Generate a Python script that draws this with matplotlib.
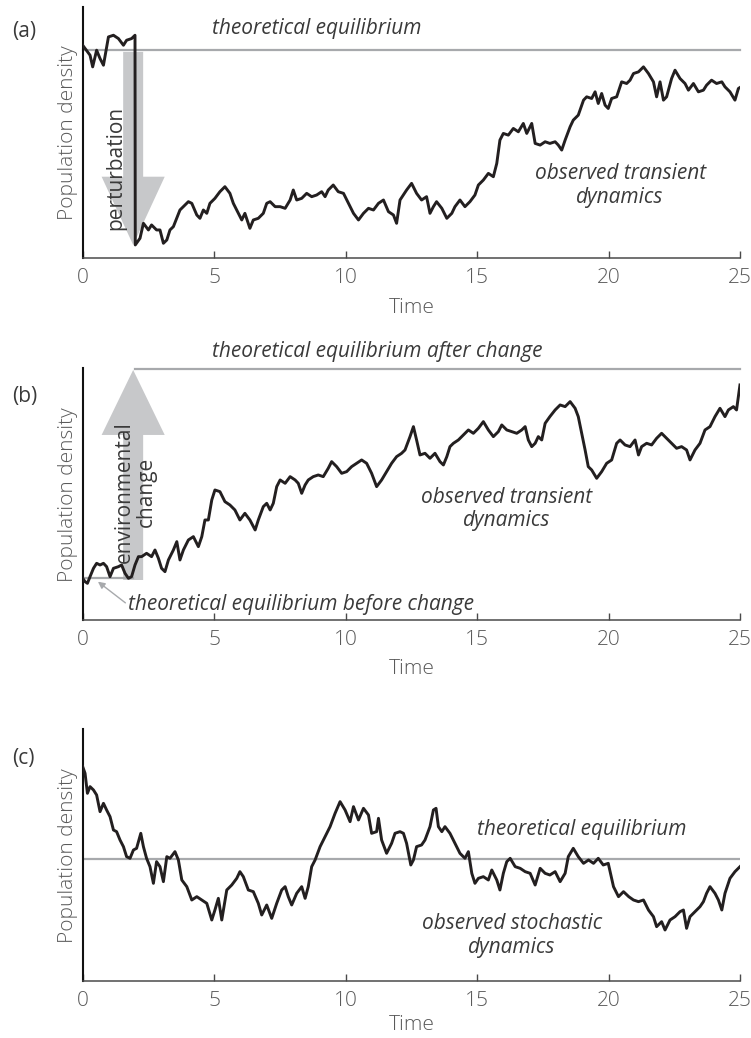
import matplotlib.pyplot as plt

plt.rcParams['font.family'] = ['Liberation Sans Narrow', 'Open Sans', 'DejaVu Sans']

# (a) perturbation away from equilibrium at t = 2
time_a = [0.00, 0.28, 0.38, 0.53, 0.66, 0.79, 0.89, 0.98, 1.17, 1.36, 1.55, 1.67, 1.86, 1.99,
          2.00, 2.18, 2.31, 2.50, 2.62, 2.81, 2.94, 3.07, 3.20, 3.32, 3.45, 3.70, 3.83, 4.02,
          4.15, 4.34, 4.46, 4.59, 4.72, 4.84, 5.03, 5.22, 5.41, 5.60, 5.73, 5.92, 6.05, 6.17,
          6.36, 6.49, 6.68, 6.87, 7.00, 7.13, 7.32, 7.51, 7.70, 7.89, 8.01, 8.14, 8.33, 8.52,
          8.71, 8.90, 9.09, 9.22, 9.34, 9.53, 9.72, 9.92, 10.11, 10.30, 10.49, 10.68, 10.87,
          11.06, 11.25, 11.44, 11.63, 11.82, 11.94, 12.07, 12.32, 12.51, 12.70, 12.89, 13.08,
          13.21, 13.34, 13.46, 13.66, 13.85, 14.04, 14.16, 14.35, 14.54, 14.73, 14.92, 15.05,
          15.24, 15.43, 15.62, 15.75, 15.87, 16.00, 16.19, 16.38, 16.57, 16.76, 16.89, 17.08,
          17.21, 17.40, 17.59, 17.77, 17.97, 18.09, 18.22, 18.35, 18.54, 18.66, 18.85, 19.05,
          19.17, 19.36, 19.49, 19.61, 19.74, 19.87, 19.99, 20.12, 20.31, 20.50, 20.69, 20.82,
          20.95, 21.14, 21.33, 21.52, 21.71, 21.83, 21.96, 22.09, 22.21, 22.40, 22.53, 22.72,
          22.91, 23.04, 23.23, 23.42, 23.61, 23.73, 23.92, 24.11, 24.31, 24.43, 24.62, 24.81,
          24.94, 25.00]
dens_a = [640, 610, 575, 625, 600, 580, 625, 665, 670, 660, 640, 655, 660, 670,
          40, 60, 105, 85, 100, 85, 85, 45, 55, 85, 95, 145, 155, 170,
          165, 130, 120, 145, 135, 165, 180, 200, 215, 195, 165, 135, 115, 135,
          90, 115, 120, 135, 165, 170, 155, 155, 150, 175, 205, 175, 180, 195,
          185, 190, 200, 185, 205, 220, 200, 195, 165, 135, 115, 135, 150,
          145, 165, 175, 140, 130, 105, 175, 205, 225, 195, 175, 185,
          135, 155, 170, 150, 120, 135, 155, 175, 155, 170, 190, 220,
          235, 255, 245, 285, 355, 375, 370, 390, 380, 405, 375, 405,
          345, 340, 350, 345, 350, 340, 325, 355, 395, 415, 430, 475,
          485, 480, 500, 465, 495, 460, 450, 480, 485, 530, 525, 535,
          555, 560, 575, 555, 530, 485, 530, 475, 485, 540, 565, 540,
          525, 505, 525, 500, 505, 520, 535, 525, 530, 515, 500, 475,
          510, 513]
eq_a = 627

# (b) equilibrium shifts upward at t = 2
time_b = [0.00, 0.09, 0.18, 0.28, 0.41, 0.53, 0.66, 0.79, 0.91, 1.04, 1.17, 1.36, 1.48, 1.61,
          1.74, 1.86, 1.99, 2.12, 2.24, 2.43, 2.62, 2.75, 2.88, 3.00, 3.13, 3.26, 3.45, 3.58,
          3.70, 3.83, 4.02, 4.21, 4.40, 4.53, 4.65, 4.78, 4.91, 5.03, 5.22, 5.41, 5.60, 5.79,
          5.98, 6.17, 6.36, 6.56, 6.68, 6.87, 7.00, 7.13, 7.25, 7.38, 7.51, 7.70, 7.89, 8.08,
          8.20, 8.33, 8.46, 8.58, 8.77, 8.96, 9.15, 9.34, 9.47, 9.66, 9.85, 10.04, 10.23,
          10.42, 10.61, 10.80, 10.99, 11.18, 11.37, 11.56, 11.75, 11.94, 12.13, 12.26, 12.45,
          12.58, 12.70, 12.83, 13.02, 13.21, 13.40, 13.59, 13.72, 13.85, 13.97, 14.10, 14.29,
          14.48, 14.67, 14.86, 15.05, 15.24, 15.43, 15.62, 15.81, 15.94, 16.13, 16.32, 16.51,
          16.70, 16.83, 16.95, 17.08, 17.21, 17.33, 17.46, 17.59, 17.77, 17.97, 18.16, 18.35,
          18.54, 18.73, 18.85, 18.98, 19.11, 19.23, 19.36, 19.55, 19.74, 19.93, 20.12, 20.31,
          20.44, 20.63, 20.82, 21.01, 21.14, 21.26, 21.45, 21.64, 21.83, 22.02, 22.21, 22.40,
          22.59, 22.78, 22.97, 23.10, 23.29, 23.48, 23.67, 23.86, 24.05, 24.24, 24.43, 24.56,
          24.75, 24.87, 25.00]
dens_b = [125, 115, 110, 130, 155, 170, 165, 170, 160, 130, 155, 160, 165, 140,
          125, 130, 165, 190, 190, 200, 190, 210, 185, 155, 145, 180, 210, 235,
          180, 210, 240, 250, 220, 250, 300, 300, 360, 390, 385, 355, 345, 330,
          300, 320, 300, 270, 300, 340, 350, 330, 350, 400, 420, 410, 430, 420,
          410, 380, 405, 420, 430, 435, 430, 455, 475, 460, 440, 445, 460,
          470, 480, 470, 440, 400, 420, 445, 470, 490, 500, 510, 550,
          580, 540, 495, 500, 485, 500, 475, 465, 490, 520, 530, 540,
          555, 570, 560, 575, 595, 570, 550, 565, 585, 570, 565, 560,
          570, 580, 540, 520, 530, 550, 540, 590, 610, 630, 645, 640,
          655, 635, 610, 560, 510, 460, 450, 425, 445, 470, 480, 530,
          540, 525, 520, 540, 495, 520, 530, 525, 545, 560, 545, 530,
          515, 520, 510, 480, 510, 530, 570, 580, 610, 635, 610, 630,
          640, 630, 705]
eq_b_before = 127
eq_b_after = 752

# (c) stochastic fluctuation about a fixed equilibrium
time_c = [0.00, 0.09, 0.18, 0.28, 0.41, 0.53, 0.66, 0.79, 0.91, 1.04, 1.17, 1.29, 1.42, 1.55,
          1.67, 1.80, 1.93, 2.05, 2.21, 2.31, 2.43, 2.56, 2.69, 2.81, 2.94, 3.07, 3.20, 3.32,
          3.51, 3.64, 3.77, 3.96, 4.15, 4.34, 4.53, 4.72, 4.91, 5.03, 5.16, 5.29, 5.48, 5.67,
          5.86, 5.98, 6.11, 6.30, 6.49, 6.68, 6.81, 7.00, 7.19, 7.38, 7.57, 7.70, 7.82, 7.95,
          8.14, 8.33, 8.46, 8.58, 8.71, 8.84, 9.03, 9.22, 9.41, 9.60, 9.79, 9.98, 10.17,
          10.30, 10.49, 10.68, 10.87, 10.99, 11.18, 11.25, 11.37, 11.56, 11.75, 11.88, 12.07,
          12.20, 12.32, 12.48, 12.58, 12.70, 12.89, 13.02, 13.21, 13.34, 13.44, 13.53, 13.66,
          13.78, 13.97, 14.16, 14.35, 14.54, 14.67, 14.80, 14.92, 15.05, 15.24, 15.43, 15.56,
          15.75, 15.87, 16.00, 16.13, 16.26, 16.45, 16.64, 16.83, 17.02, 17.21, 17.40, 17.59,
          17.77, 17.97, 18.16, 18.35, 18.47, 18.66, 18.85, 19.05, 19.24, 19.43, 19.61, 19.80,
          19.99, 20.19, 20.38, 20.57, 20.77, 20.95, 21.14, 21.33, 21.52, 21.71, 21.83, 22.02,
          22.15, 22.34, 22.53, 22.72, 22.85, 22.97, 23.10, 23.29, 23.48, 23.61, 23.73, 23.86,
          24.05, 24.18, 24.31, 24.43, 24.62, 24.81, 25.00]
dens_c = [643, 623, 563, 583, 573, 558, 508, 533, 513, 493, 453, 448, 423, 403,
          373, 368, 393, 398, 443, 403, 368, 343, 293, 358, 343, 298, 373, 368,
          388, 363, 303, 283, 243, 253, 243, 233, 183, 213, 248, 183, 273, 288,
          308, 328, 313, 273, 268, 233, 198, 228, 188, 233, 273, 283, 253, 228,
          263, 283, 248, 283, 343, 363, 403, 433, 463, 503, 538, 513, 478,
          523, 483, 518, 498, 443, 448, 488, 423, 383, 413, 443, 448,
          443, 413, 348, 363, 403, 408, 423, 463, 513, 518, 463, 448,
          463, 443, 413, 383, 368, 388, 323, 293, 308, 313, 303, 333,
          303, 273, 323, 358, 368, 343, 338, 328, 323, 288, 338, 323,
          318, 328, 298, 323, 373, 398, 373, 353, 363, 353, 368, 348,
          353, 283, 253, 268, 253, 243, 238, 243, 213, 193, 163, 178,
          153, 183, 193, 208, 213, 158, 193, 208, 223, 238, 263, 283,
          263, 243, 213, 263, 308, 328, 343]
eq_c = 365

x_ticks = [0, 5, 10, 15, 20, 25]
y_top = 755

trace_col = '#231f20'
eq_col = '#a7a9ac'
arrow_col = '#c7c8ca'
text_col = '#3a3a3a'
axis_text_col = '#5a5a5a'
note_size = 15


def fat_arrow(ax, x, y_from, y_to, head_len):
    # wide vertical block arrow pointing from y_from to y_to
    shaft = 0.38
    head = 1.2
    sign = 1 if y_to > y_from else -1
    y_base = y_to - sign * head_len
    xs = [x - shaft, x + shaft, x + shaft, x + head, x, x - head, x - shaft]
    ys = [y_from, y_from, y_base, y_base, y_to, y_base, y_base]
    ax.fill(xs, ys, color=arrow_col, lw=0, zorder=1)


def setup(ax, xpad=7):
    ax.set_xlim(0, 25)
    ax.set_ylim(0, y_top)
    ax.set_xticks(x_ticks)
    ax.set_yticks([])
    ax.spines['top'].set_visible(False)
    ax.spines['right'].set_visible(False)
    ax.spines['left'].set_linewidth(1.5)
    ax.spines['left'].set_color('#111111')
    ax.spines['bottom'].set_linewidth(1.1)
    ax.spines['bottom'].set_color('#4a4a4a')
    ax.tick_params(axis='x', direction='in', length=5, width=1.0, color='#4a4a4a',
                   labelsize=15, labelcolor=axis_text_col, pad=7)
    for lab in ax.get_xticklabels():
        lab.set_fontweight('light')
    ax.set_xlabel('Time', fontsize=15, color=axis_text_col, labelpad=xpad, fontweight='light')
    ax.set_ylabel('Population density', fontsize=15, color=axis_text_col, labelpad=3.5,
                  fontweight='light')
    ax.patch.set_alpha(0)


fig = plt.figure(figsize=(7.51, 10.38), dpi=100)
ax_a = fig.add_axes([0.1101, 0.7512, 0.8752, 0.2421])
ax_b = fig.add_axes([0.1101, 0.4027, 0.8752, 0.2425])
ax_c = fig.add_axes([0.1101, 0.0549, 0.8752, 0.2425])

# panel (a)
setup(ax_a)
ax_a.plot([0, 25], [eq_a, eq_a], color=eq_col, lw=1.6, zorder=2, clip_on=False)
fat_arrow(ax_a, 1.92, 620, 40, 205)
ax_a.plot(time_a, dens_a, color=trace_col, lw=2.1, zorder=3, solid_joinstyle='round')
ax_a.text(8.92, 675, 'theoretical equilibrium', style='italic', fontsize=note_size,
          color=text_col, ha='center', va='baseline')
ax_a.text(1.27, 272, 'perturbation', rotation=90, fontsize=note_size, color=text_col,
          ha='center', va='center', zorder=4)
ax_a.text(20.44, 218, 'observed transient\ndynamics', style='italic', fontsize=note_size,
          color=text_col, ha='center', va='center', linespacing=1.15)

# panel (b)
setup(ax_b)
ax_b.plot([0, 1.92], [eq_b_before, eq_b_before], color=eq_col, lw=1.6, zorder=2)
ax_b.plot([2.0, 25], [eq_b_after, eq_b_after], color=eq_col, lw=1.6, zorder=2, clip_on=False)
fat_arrow(ax_b, 1.92, 120, 750, 195)
ax_b.plot(time_b, dens_b, color=trace_col, lw=2.1, zorder=3, solid_joinstyle='round')
ax_b.text(11.2, 790, 'theoretical equilibrium after change', style='italic', fontsize=note_size,
          color=text_col, ha='center', va='baseline', clip_on=False)
ax_b.text(2.0, 385, 'environmental\nchange', rotation=90, fontsize=note_size, color=text_col,
          ha='center', va='center', linespacing=1.1, zorder=4)
ax_b.text(16.13, 333, 'observed transient\ndynamics', style='italic', fontsize=note_size,
          color=text_col, ha='center', va='center', linespacing=1.15)
ax_b.annotate('theoretical equilibrium before change', xy=(0.58, 115), xytext=(1.73, 45),
              style='italic', fontsize=note_size, color=text_col, ha='left', va='center',
              arrowprops=dict(arrowstyle='-|>', color=eq_col, lw=1.0,
                              shrinkA=0, shrinkB=0, mutation_scale=10,
                              relpos=(0, 0.5)))

# panel (c)
setup(ax_c, xpad=3)
ax_c.plot([0, 25], [eq_c, eq_c], color=eq_col, lw=1.6, zorder=2)
ax_c.plot(time_c, dens_c, color=trace_col, lw=2.1, zorder=3, solid_joinstyle='round')
ax_c.text(19.0, 453, 'theoretical equilibrium', style='italic', fontsize=note_size,
          color=text_col, ha='center', va='center')
ax_c.text(16.32, 137, 'observed stochastic\ndynamics', style='italic', fontsize=note_size,
          color=text_col, ha='center', va='center', linespacing=1.15)

fig.text(0.016, 0.9695, '(a)', fontsize=15, color=text_col, ha='left', va='center')
fig.text(0.016, 0.6178, '(b)', fontsize=15, color=text_col, ha='left', va='center')
fig.text(0.016, 0.2697, '(c)', fontsize=15, color=text_col, ha='left', va='center')

fig.savefig('out.png', dpi=100)
